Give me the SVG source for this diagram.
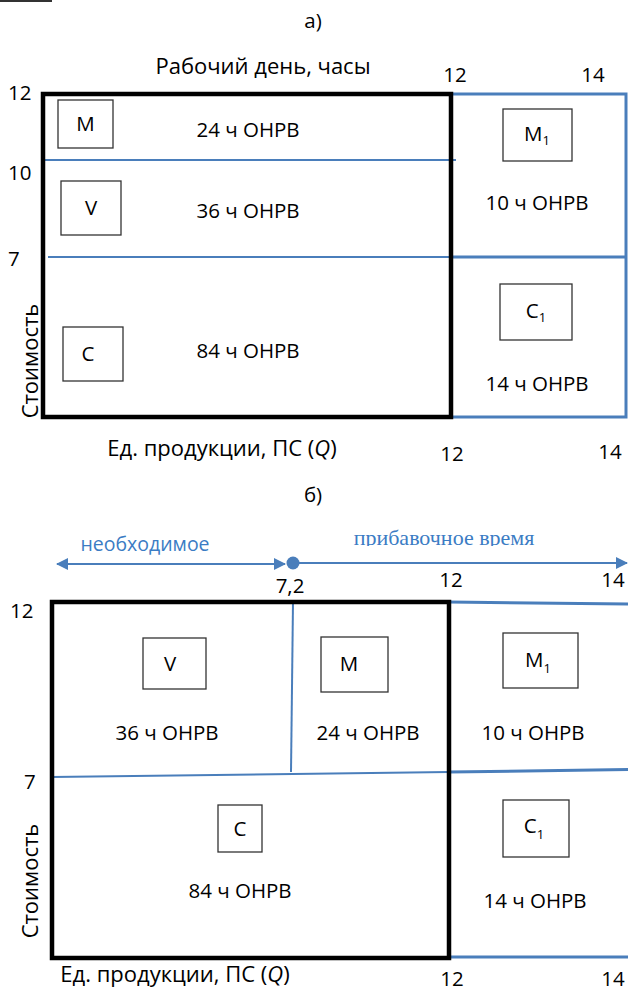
<svg xmlns="http://www.w3.org/2000/svg" width="628" height="994" viewBox="0 0 628 994">
<style>
text{font-family:"Open Sans","Liberation Sans",sans-serif;fill:#000;font-size:20.5px}
.c{text-anchor:middle}
.ax{font-size:22px}
.blk{fill:none;stroke:#000;stroke-width:4.5}
.bl{fill:none;stroke:#4a7ebb;stroke-width:3}
.thin{fill:none;stroke:#4a7ebb;stroke-width:2}
.box{fill:#fff;stroke:#333;stroke-width:1.3}
.sub{font-size:13px}
</style>
<defs>
<marker id="ah" viewBox="0 0 12 12" refX="11" refY="6" markerWidth="12" markerHeight="12" markerUnits="userSpaceOnUse" orient="auto-start-reverse">
<path d="M0,0 L12,6 L0,12 Z" fill="#4a7ebb"/>
</marker>
<clipPath id="clipTop"><rect x="300" y="520" width="328" height="26"/></clipPath>
</defs>
<rect x="0" y="0" width="52" height="2" fill="#333"/>

<!-- Part a -->
<text class="c" x="313" y="28">а)</text>
<text class="c ax" x="263" y="74">Рабочий день, часы</text>
<text class="c" x="455" y="82">12</text>
<text class="c" x="593" y="82">14</text>
<text x="8" y="100">12</text>
<text x="8" y="180">10</text>
<text x="8" y="266">7</text>
<text class="c ax" transform="translate(38,361) rotate(-90)">Стоимость</text>
<text class="c ax" x="222" y="456">Ед. продукции, ПС (<tspan font-style="italic">Q</tspan>)</text>
<text class="c" x="452" y="461">12</text>
<text class="c" x="610" y="459">14</text>

<g id="connectors-a">
<line class="thin" x1="43" y1="160" x2="456" y2="160"/>
<line class="thin" x1="48" y1="257" x2="451" y2="257"/>
<line class="bl" x1="451" y1="257" x2="626" y2="257"/>
</g>
<g id="panel-a-right">
<rect class="bl" x="451" y="94" width="175" height="323"/>
</g>
<g id="panel-a-left">
<rect class="blk" x="43" y="94" width="408" height="323"/>
</g>
<g id="node-a-M">
<rect class="box" x="58" y="100" width="55" height="48"/>
<text class="c" x="85.5" y="131">М</text>
</g>
<g id="node-a-V">
<rect class="box" x="61" y="181" width="60" height="54"/>
<text class="c" x="91" y="215">V</text>
</g>
<g id="node-a-C">
<rect class="box" x="63" y="327" width="60" height="54"/>
<text class="c" x="88" y="361">С</text>
</g>
<g id="node-a-M1">
<rect class="box" x="503" y="109" width="69" height="52"/>
<text class="c" x="537" y="141">М<tspan class="sub" dy="4">1</tspan></text>
</g>
<g id="node-a-C1">
<rect class="box" x="500" y="284" width="72" height="56"/>
<text class="c" x="536" y="318">С<tspan class="sub" dy="4">1</tspan></text>
</g>
<text class="c" x="248" y="137">24 ч ОНРВ</text>
<text class="c" x="248" y="218">36 ч ОНРВ</text>
<text class="c" x="248" y="358">84 ч ОНРВ</text>
<text class="c" x="537" y="210">10 ч ОНРВ</text>
<text class="c" x="537" y="391">14 ч ОНРВ</text>

<!-- Part b -->
<text class="c" x="313" y="502">б)</text>
<text class="c" x="145" y="551" style="fill:#3b7cc4;font-size:19.5px">необходимое</text>
<g clip-path="url(#clipTop)">
<text class="c" x="444" y="545" style="fill:#3b7cc4;font-family:'Liberation Serif','Times New Roman',serif;font-size:22px">прибавочное время</text>
</g>
<g id="connectors-b-arrows">
<line class="thin" x1="57" y1="564" x2="285" y2="564" marker-start="url(#ah)" marker-end="url(#ah)"/>
<line class="thin" x1="293" y1="563" x2="627" y2="563" marker-end="url(#ah)"/>
<circle cx="293" cy="563" r="6.5" fill="#4a7ebb"/>
</g>
<text class="c" x="290" y="593">7,2</text>
<text class="c" x="451" y="587">12</text>
<text class="c" x="613" y="587">14</text>
<text x="10" y="618">12</text>
<text x="24" y="789">7</text>
<text class="c ax" transform="translate(38,881) rotate(-90)">Стоимость</text>
<text class="c ax" x="175" y="982">Ед. продукции, ПС (<tspan font-style="italic">Q</tspan>)</text>
<text class="c" x="452" y="986">12</text>
<text class="c" x="613" y="986">14</text>

<g id="connectors-b">
<line class="thin" x1="293" y1="602" x2="291" y2="772"/>
<line class="thin" x1="52" y1="777" x2="449" y2="772"/>
<line class="bl" x1="449" y1="772" x2="628" y2="769.5"/>
<line class="bl" x1="449" y1="602" x2="628" y2="604"/>
<line class="bl" x1="449" y1="957" x2="628" y2="957"/>
</g>
<g id="panel-b-left">
<rect class="blk" x="52" y="602" width="397" height="356"/>
</g>
<g id="node-b-V">
<rect class="box" x="143" y="638" width="63" height="51"/>
<text class="c" x="170" y="671">V</text>
</g>
<g id="node-b-M">
<rect class="box" x="321" y="637" width="67" height="55"/>
<text class="c" x="349" y="671">М</text>
</g>
<g id="node-b-M1">
<rect class="box" x="503" y="633" width="75" height="55"/>
<text class="c" x="538" y="667">М<tspan class="sub" dy="6">1</tspan></text>
</g>
<g id="node-b-C">
<rect class="box" x="218" y="805" width="44" height="47"/>
<text class="c" x="240" y="836">С</text>
</g>
<g id="node-b-C1">
<rect class="box" x="503" y="800" width="66" height="57"/>
<text class="c" x="534" y="833">С<tspan class="sub" dy="6">1</tspan></text>
</g>
<text class="c" x="167" y="740">36 ч ОНРВ</text>
<text class="c" x="368" y="740">24 ч ОНРВ</text>
<text class="c" x="533" y="740">10 ч ОНРВ</text>
<text class="c" x="240" y="898">84 ч ОНРВ</text>
<text class="c" x="535" y="908">14 ч ОНРВ</text>
</svg>
